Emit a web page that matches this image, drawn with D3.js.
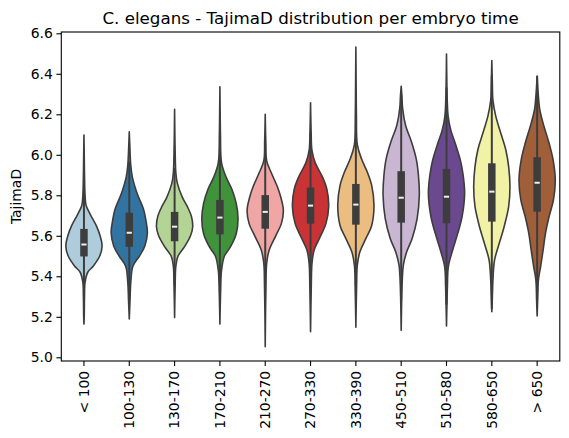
<!DOCTYPE html>
<html>
<head>
<meta charset="utf-8">
<script src="https://cdn.jsdelivr.net/npm/d3@7"></script>
<style>
  body { margin: 0; background: #fff; }
  svg { display: block; font-family: "DejaVu Sans", sans-serif; }
</style>
</head>
<body>
<svg id="chart" width="569" height="438"></svg>
<script>
// Embryo time bins on the x axis.
const categories = ['< 100', '100-130', '130-170', '170-210', '210-270', '270-330',
  '330-390', '450-510', '510-580', '580-650', '> 650'];

// Paired palette, in the order it was used.
const palette = ['#a6cee3', '#1f78b4', '#b2df8a', '#33a02c', '#fb9a99', '#e31a1c',
  '#fdbf6f', '#cab2d6', '#6a3d9a', '#ffff99', '#b15928'];

// Box stats.
const q1 = [5.498, 5.546, 5.573, 5.607, 5.635, 5.660, 5.655, 5.665, 5.662, 5.670, 5.719];
const medians = [5.557, 5.615, 5.645, 5.690, 5.718, 5.749, 5.754, 5.788, 5.793, 5.818, 5.862];
const q3 = [5.634, 5.714, 5.718, 5.777, 5.801, 5.838, 5.856, 5.919, 5.930, 5.958, 5.988];

// Density outline per bin: [TajimaD, relative density], top tail to bottom tail.
const densities = [
  [[6.098, 0], [6.0, 0.015], [5.9, 0.03], [5.8, 0.06], [5.75, 0.12], [5.7, 0.38], [5.65, 0.68], [5.6, 0.89],
   [5.55, 1], [5.5, 0.87], [5.45, 0.51], [5.42, 0.21], [5.37, 0.06], [5.3, 0.03], [5.2, 0.015], [5.164, 0]],
  [[6.114, 0], [6.02, 0.04], [5.95, 0.08], [5.89, 0.17], [5.81, 0.43], [5.73, 0.79], [5.68, 0.91], [5.615, 1],
   [5.55, 0.86], [5.5, 0.56], [5.45, 0.2], [5.38, 0.09], [5.28, 0.04], [5.189, 0]],
  [[6.225, 0], [6.1, 0.015], [6.02, 0.03], [5.91, 0.07], [5.86, 0.15], [5.79, 0.43], [5.745, 0.7], [5.695, 0.93],
   [5.645, 1], [5.6, 0.88], [5.545, 0.54], [5.5, 0.19], [5.45, 0.07], [5.35, 0.03], [5.196, 0]],
  [[6.336, 0], [6.2, 0.015], [6.1, 0.03], [5.96, 0.09], [5.89, 0.34], [5.83, 0.66], [5.76, 0.9], [5.686, 1],
   [5.61, 0.9], [5.545, 0.58], [5.5, 0.25], [5.43, 0.09], [5.33, 0.04], [5.164, 0]],
  [[6.2, 0], [6.07, 0.03], [5.97, 0.08], [5.91, 0.34], [5.84, 0.68], [5.79, 0.86], [5.727, 1], [5.66, 0.89],
   [5.6, 0.58], [5.53, 0.22], [5.465, 0.08], [5.35, 0.04], [5.2, 0.015], [5.052, 0]],
  [[6.257, 0], [6.12, 0.03], [6.02, 0.08], [5.96, 0.26], [5.89, 0.66], [5.83, 0.9], [5.745, 1], [5.66, 0.85],
   [5.6, 0.56], [5.53, 0.2], [5.465, 0.08], [5.35, 0.04], [5.126, 0]],
  [[6.532, 0], [6.35, 0.015], [6.2, 0.03], [6.05, 0.08], [5.98, 0.31], [5.915, 0.63], [5.85, 0.87], [5.751, 1],
   [5.65, 0.87], [5.586, 0.55], [5.52, 0.22], [5.455, 0.08], [5.35, 0.04], [5.148, 0]],
  [[6.338, 0], [6.29, 0.04], [6.228, 0.08], [6.146, 0.24], [6.063, 0.57], [5.98, 0.83], [5.9, 0.95], [5.8, 1],
   [5.685, 0.88], [5.586, 0.6], [5.52, 0.3], [5.455, 0.12], [5.356, 0.05], [5.25, 0.02], [5.133, 0]],
  [[6.498, 0], [6.35, 0.02], [6.27, 0.04], [6.19, 0.09], [6.12, 0.24], [6.057, 0.48], [5.975, 0.76], [5.91, 0.9],
   [5.81, 1], [5.695, 0.86], [5.612, 0.62], [5.53, 0.34], [5.447, 0.1], [5.35, 0.05], [5.155, 0]],
  [[6.465, 0], [6.35, 0.03], [6.27, 0.06], [6.19, 0.22], [6.105, 0.5], [6.025, 0.77], [5.94, 0.93], [5.843, 1],
   [5.745, 0.93], [5.645, 0.68], [5.563, 0.41], [5.48, 0.15], [5.38, 0.06], [5.3, 0.03], [5.225, 0]],
  [[6.389, 0], [6.3, 0.06], [6.22, 0.15], [6.14, 0.38], [6.057, 0.66], [5.975, 0.88], [5.876, 1], [5.777, 0.9],
   [5.695, 0.66], [5.612, 0.46], [5.53, 0.33], [5.447, 0.19], [5.382, 0.07], [5.283, 0.03], [5.204, 0]]
];

const yTicks = [5.0, 5.2, 5.4, 5.6, 5.8, 6.0, 6.2, 6.4, 6.6];

const svg = d3.select('#chart');
const margin = { left: 61.3, right: 559.8, top: 32, bottom: 361 };
const lineColor = '#3d3d3d';

const x = d3.scaleBand()
  .domain(categories)
  .range([margin.left, margin.right])
  .padding(0);

const y = d3.scaleLinear()
  .domain([4.9817, 6.6064])
  .range([margin.bottom, margin.top]);

// Widest violin takes 80% of the band.
const w = d3.scaleLinear()
  .domain([0, 1])
  .range([0, x.bandwidth() * 0.4]);

// seaborn desaturates the palette a little (saturation 0.75).
const fillColor = c => {
  const h = d3.hsl(c);
  h.s *= 0.75;
  return h.formatHex();
};

const plot = svg.append('g');

categories.forEach((cat, i) => {
  const cx = x(cat) + x.bandwidth() / 2;
  const prof = densities[i];

  const area = d3.area()
    .y(d => y(d[0]))
    .x0(d => cx - w(d[1]))
    .x1(d => cx + w(d[1]))
    .curve(d3.curveCatmullRom.alpha(0.5));

  plot.append('path')
    .attr('d', area(prof))
    .attr('fill', fillColor(palette[i]))
    .attr('stroke', lineColor)
    .attr('stroke-width', 1.6)
    .attr('stroke-linejoin', 'round');

  // Inner box: whiskers at 1.5 IQR, thick box q1-q3, light median tick.
  const iqr = q3[i] - q1[i];
  const dataMax = prof[0][0];
  const dataMin = prof[prof.length - 1][0];
  const whisHi = Math.min(dataMax, q3[i] + 1.5 * iqr);
  const whisLo = Math.max(dataMin, q1[i] - 1.5 * iqr);

  plot.append('line')
    .attr('x1', cx).attr('x2', cx)
    .attr('y1', y(whisHi)).attr('y2', y(whisLo))
    .attr('stroke', lineColor)
    .attr('stroke-width', 2);

  plot.append('rect')
    .attr('x', cx - 3.75)
    .attr('width', 7.5)
    .attr('y', y(q3[i]))
    .attr('height', y(q1[i]) - y(q3[i]))
    .attr('fill', lineColor);

  plot.append('rect')
    .attr('x', cx - 2.6)
    .attr('width', 5.2)
    .attr('y', y(medians[i]) - 1)
    .attr('height', 2)
    .attr('fill', '#eeeeee');
});

// Axes frame.
svg.append('rect')
  .attr('x', margin.left)
  .attr('y', margin.top)
  .attr('width', margin.right - margin.left)
  .attr('height', margin.bottom - margin.top)
  .attr('fill', 'none')
  .attr('stroke', '#000')
  .attr('stroke-width', 1.1);

// Y axis ticks and labels.
const yAxis = svg.append('g')
  .attr('transform', `translate(${margin.left},0)`)
  .call(d3.axisLeft(y).tickValues(yTicks).tickFormat(d3.format('.1f')).tickSize(4.9).tickPadding(3.6));
yAxis.select('.domain').remove();
yAxis.selectAll('line').attr('stroke', '#000').attr('stroke-width', 1.1);
yAxis.selectAll('text')
  .attr('fill', '#000')
  .style('font-family', '"DejaVu Sans", sans-serif')
  .style('font-size', '13.9px');

// X axis ticks with vertical labels.
const xAxis = svg.append('g')
  .attr('transform', `translate(0,${margin.bottom})`)
  .call(d3.axisBottom(x).tickSize(4.9).tickSizeOuter(0));
xAxis.select('.domain').remove();
xAxis.selectAll('line').attr('stroke', '#000').attr('stroke-width', 1.1);
xAxis.selectAll('text')
  .attr('fill', '#000')
  .attr('y', 0)
  .attr('x', -9.8)
  .attr('dy', '0.35em')
  .attr('transform', 'rotate(-90)')
  .attr('text-anchor', 'end')
  .style('font-family', '"DejaVu Sans", sans-serif')
  .style('font-size', '13.9px');

// Y label and title.
svg.append('text')
  .attr('transform', `translate(21,${(margin.top + margin.bottom) / 2}) rotate(-90)`)
  .attr('text-anchor', 'middle')
  .style('font-size', '13.9px')
  .text('TajimaD');

svg.append('text')
  .attr('x', (margin.left + margin.right) / 2)
  .attr('y', 24)
  .attr('text-anchor', 'middle')
  .style('font-size', '16.7px')
  .text('C. elegans - TajimaD distribution per embryo time');
</script>
</body>
</html>
